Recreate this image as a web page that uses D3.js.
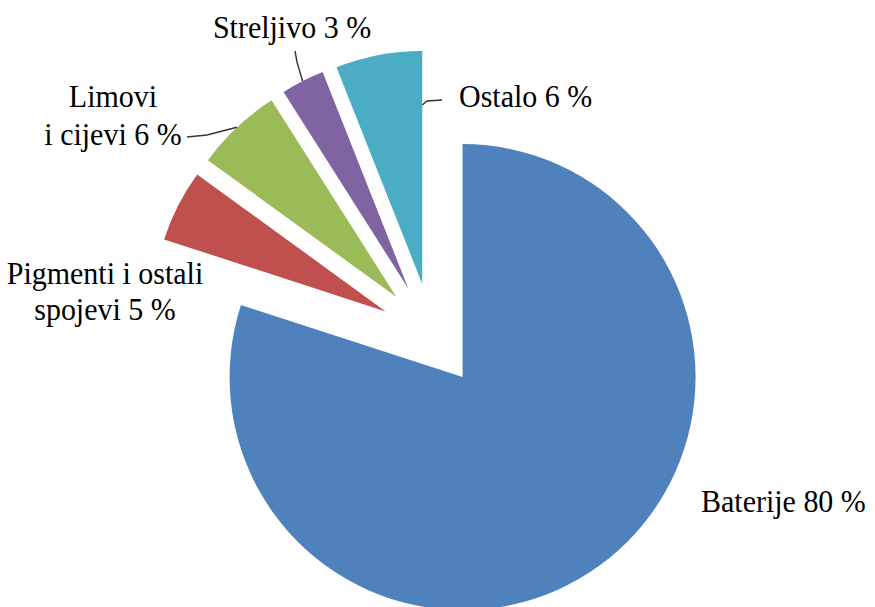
<!DOCTYPE html>
<html>
<head>
<meta charset="utf-8">
<script src="https://cdn.jsdelivr.net/npm/d3@7"></script>
<style>
  html, body { margin: 0; padding: 0; background: #fff; }
  svg { display: block; }
</style>
</head>
<body>
<svg id="chart" width="875" height="607"></svg>
<script>
// ---- data ----
const categories = ["Baterije", "Pigmenti i ostali spojevi", "Limovi i cijevi", "Streljivo", "Ostalo"];
const values = [80, 5, 6, 3, 6];
const labelLines = [
  ["Baterije 80 %"],
  ["Pigmenti i ostali", "spojevi 5 %"],
  ["Limovi", "i cijevi 6 %"],
  ["Streljivo 3 %"],
  ["Ostalo 6 %"]
];
const colors = ["#4F81BD", "#C0504D", "#9BBB59", "#8064A2", "#4BACC6"];

// ---- layout ----
const cx = 432, cy = 335, R = 233, explode = 52;
const fontSize = 30, vScale = 1.07;
const fontFamily = "Liberation Serif";
// label anchor (x, first baseline, line height, anchor)
const labelPos = [
  {x: 701, y: 512, lh: 0, anchor: "start"},
  {x: 105, y: 284, lh: 36, anchor: "middle"},
  {x: 113, y: 107, lh: 38, anchor: "middle"},
  {x: 292, y: 38, lh: 0, anchor: "middle"},
  {x: 459, y: 107, lh: 0, anchor: "start"}
];

const svg = d3.select("#chart");
const pie = d3.pie().sort(null).value(d => d)(values);
const arc = d3.arc().innerRadius(0).outerRadius(R);

function offset(d) {
  const a = (d.startAngle + d.endAngle) / 2;
  return [cx + explode * Math.sin(a), cy - explode * Math.cos(a)];
}

svg.append("g").selectAll("path.slice")
  .data(pie)
  .join("path")
  .attr("class", "slice")
  .attr("d", arc)
  .attr("fill", (d, i) => colors[i])
  .attr("transform", d => { const o = offset(d); return `translate(${o[0]},${o[1]})`; });

// leader lines
function outerPoint(d, angle) {
  const o = offset(d);
  return [o[0] + R * Math.sin(angle), o[1] - R * Math.cos(angle)];
}
const line = d3.line();
const leaders = [];
{ // Limovi
  const d = pie[2];
  leaders.push([[187, 137], [207, 135], outerPoint(d, (d.startAngle + d.endAngle) / 2)]);
}
{ // Streljivo
  const d = pie[3];
  leaders.push([[295, 51], [297, 62], outerPoint(d, (d.startAngle + d.endAngle) / 2)]);
}
{ // Ostalo
  const o = offset(pie[4]);
  leaders.push([[o[0], 105], [427, 101], [442, 100]]);
}
svg.selectAll("path.leader")
  .data(leaders)
  .join("path")
  .attr("class", "leader")
  .attr("d", d => line(d))
  .attr("fill", "none")
  .attr("stroke", "#333")
  .attr("stroke-width", 1.4);

// labels
labelLines.forEach((lines, i) => {
  const p = labelPos[i];
  lines.forEach((ln, j) => {
    svg.append("text")
      .attr("transform", `translate(${p.x},${p.y + j * p.lh}) scale(1,${vScale})`)
      .attr("text-anchor", p.anchor)
      .attr("font-family", fontFamily)
      .attr("font-size", fontSize)
      .attr("fill", "#000")
      .text(ln);
  });
});
</script>
</body>
</html>
